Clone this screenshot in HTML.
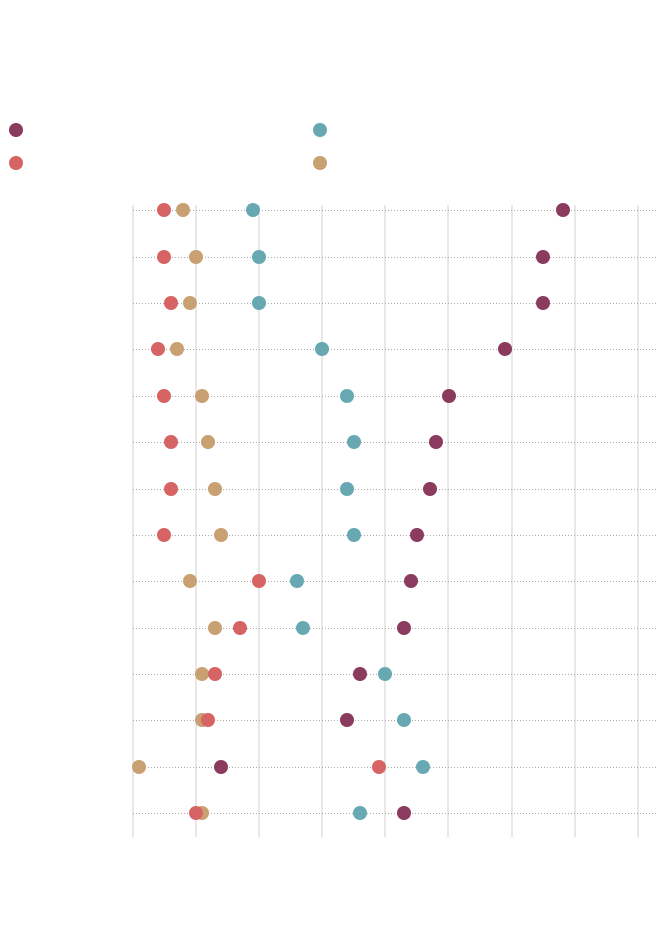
<!DOCTYPE html>
<html><head><meta charset="utf-8"><style>html,body{margin:0;padding:0;background:#fff}</style></head>
<body>
<svg width="670" height="936" xmlns="http://www.w3.org/2000/svg">
<g stroke="#d0d0d0" stroke-width="1">
<line x1="133" y1="205" x2="133" y2="837"/><line x1="196" y1="205" x2="196" y2="837"/><line x1="259" y1="205" x2="259" y2="837"/><line x1="322" y1="205" x2="322" y2="837"/><line x1="385" y1="205" x2="385" y2="837"/><line x1="448" y1="205" x2="448" y2="837"/><line x1="512" y1="205" x2="512" y2="837"/><line x1="575" y1="205" x2="575" y2="837"/><line x1="638" y1="205" x2="638" y2="837"/>
</g>
<g stroke="#aaa" stroke-width="1" stroke-dasharray="1,2">
<line x1="133" y1="210.5" x2="656" y2="210.5"/><line x1="133" y1="257.5" x2="656" y2="257.5"/><line x1="133" y1="303.5" x2="656" y2="303.5"/><line x1="133" y1="349.5" x2="656" y2="349.5"/><line x1="133" y1="396.5" x2="656" y2="396.5"/><line x1="133" y1="442.5" x2="656" y2="442.5"/><line x1="133" y1="489.5" x2="656" y2="489.5"/><line x1="133" y1="535.5" x2="656" y2="535.5"/><line x1="133" y1="581.5" x2="656" y2="581.5"/><line x1="133" y1="628.5" x2="656" y2="628.5"/><line x1="133" y1="674.5" x2="656" y2="674.5"/><line x1="133" y1="720.5" x2="656" y2="720.5"/><line x1="133" y1="767.5" x2="656" y2="767.5"/><line x1="133" y1="813.5" x2="656" y2="813.5"/>
</g>
<g>
<circle cx="16" cy="130" r="7" fill="#8b3c5e"/><circle cx="320" cy="130" r="7" fill="#67a8b2"/>
<circle cx="16" cy="163" r="7" fill="#d66464"/><circle cx="320" cy="163" r="7" fill="#c8a072"/>
</g>
<g fill="#8b3c5e">
<circle cx="563" cy="210" r="7"/><circle cx="543" cy="257" r="7"/><circle cx="543" cy="303" r="7"/><circle cx="505" cy="349" r="7"/><circle cx="449" cy="396" r="7"/><circle cx="436" cy="442" r="7"/><circle cx="430" cy="489" r="7"/><circle cx="417" cy="535" r="7"/><circle cx="411" cy="581" r="7"/><circle cx="404" cy="628" r="7"/><circle cx="360" cy="674" r="7"/><circle cx="347" cy="720" r="7"/><circle cx="221" cy="767" r="7"/><circle cx="404" cy="813" r="7"/>
</g>
<g fill="#67a8b2">
<circle cx="253" cy="210" r="7"/><circle cx="259" cy="257" r="7"/><circle cx="259" cy="303" r="7"/><circle cx="322" cy="349" r="7"/><circle cx="347" cy="396" r="7"/><circle cx="354" cy="442" r="7"/><circle cx="347" cy="489" r="7"/><circle cx="354" cy="535" r="7"/><circle cx="297" cy="581" r="7"/><circle cx="303" cy="628" r="7"/><circle cx="385" cy="674" r="7"/><circle cx="404" cy="720" r="7"/><circle cx="423" cy="767" r="7"/><circle cx="360" cy="813" r="7"/>
</g>
<g fill="#c8a072">
<circle cx="183" cy="210" r="7"/><circle cx="196" cy="257" r="7"/><circle cx="190" cy="303" r="7"/><circle cx="177" cy="349" r="7"/><circle cx="202" cy="396" r="7"/><circle cx="208" cy="442" r="7"/><circle cx="215" cy="489" r="7"/><circle cx="221" cy="535" r="7"/><circle cx="190" cy="581" r="7"/><circle cx="215" cy="628" r="7"/><circle cx="202" cy="674" r="7"/><circle cx="202" cy="720" r="7"/><circle cx="139" cy="767" r="7"/><circle cx="202" cy="813" r="7"/>
</g>
<g fill="#d66464">
<circle cx="164" cy="210" r="7"/><circle cx="164" cy="257" r="7"/><circle cx="171" cy="303" r="7"/><circle cx="158" cy="349" r="7"/><circle cx="164" cy="396" r="7"/><circle cx="171" cy="442" r="7"/><circle cx="171" cy="489" r="7"/><circle cx="164" cy="535" r="7"/><circle cx="259" cy="581" r="7"/><circle cx="240" cy="628" r="7"/><circle cx="215" cy="674" r="7"/><circle cx="208" cy="720" r="7"/><circle cx="379" cy="767" r="7"/><circle cx="196" cy="813" r="7"/>
</g>
</svg>
</body></html>
